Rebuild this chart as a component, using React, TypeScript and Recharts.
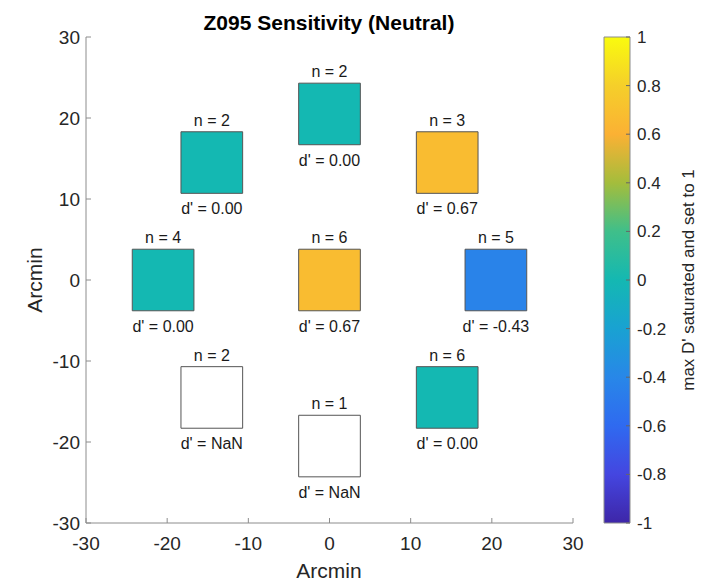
import React from 'react';
import {
  ScatterChart,
  ComposedChart,
  Scatter,
  XAxis,
  YAxis,
  ReferenceArea,
  Label,
  Customized,
} from 'recharts';

// ---- data ----
const centerX = [0, -14.5, 14.5, -20.5, 0, 20.5, -14.5, 14.5, 0];
const centerY = [20.5, 14.5, 14.5, 0, 0, 0, -14.5, -14.5, -20.5];
const trialCounts = [2, 2, 3, 4, 6, 5, 2, 6, 1];
const dPrimeValues = [0, 0, 0.67, 0, 0.67, -0.43, NaN, 0, NaN];
const squareHalf = 3.8;
const axisTicks = [-30, -20, -10, 0, 10, 20, 30];
const colorbarTicks = [-1, -0.8, -0.6, -0.4, -0.2, 0, 0.2, 0.4, 0.6, 0.8, 1];
const parulaStops = [
  '#3E26A8', '#4446E0', '#2F6AF0', '#2887E8', '#19A2D2', '#14B8B2',
  '#3FBF8A', '#A4BD3C', '#FBB134', '#F5CF2A', '#F9FB0E',
];
const titleText = 'Z095 Sensitivity (Neutral)';
const axisLabel = 'Arcmin';
const colorbarLabel = "max D' saturated and set to 1";

const FONT = '"Liberation Sans", Arial, Helvetica, sans-serif';

function hexToRgb(h: string) {
  return [parseInt(h.slice(1, 3), 16), parseInt(h.slice(3, 5), 16), parseInt(h.slice(5, 7), 16)];
}
function parula(v: number) {
  const t = Math.max(0, Math.min(1, (v + 1) / 2));
  const pos = t * (parulaStops.length - 1);
  const i = Math.min(parulaStops.length - 2, Math.floor(pos));
  const f = pos - i;
  const a = hexToRgb(parulaStops[i]);
  const b = hexToRgb(parulaStops[i + 1]);
  const c = a.map((av, k) => Math.round(av + (b[k] - av) * f));
  return `rgb(${c[0]},${c[1]},${c[2]})`;
}

const squares = centerX.map((x, i) => ({
  x,
  y: centerY[i],
  n: trialCounts[i],
  d: dPrimeValues[i],
}));

const makeLabel = (n: number, d: number) => (props: any) => {
  const vb = props.viewBox || {};
  const cx = vb.x + vb.width / 2;
  const top = vb.y;
  const bottom = vb.y + vb.height;
  const dText = Number.isNaN(d) ? 'NaN' : d.toFixed(2);
  return (
    <g>
      <text x={cx} y={top - 6} textAnchor="middle" fontSize={16} fill="#1a1a1a" fontFamily={FONT}>
        {`n = ${n}`}
      </text>
      <text x={cx} y={bottom + 21} textAnchor="middle" fontSize={16} fill="#1a1a1a" fontFamily={FONT}>
        {`d' = ${dText}`}
      </text>
    </g>
  );
};

const Title = () => (
  <text x={329} y={30} textAnchor="middle" fontSize={21} fontWeight="bold" fill="#000" fontFamily={FONT}>
    {titleText}
  </text>
);

export default function App() {
  return (
    <div style={{ position: 'absolute', left: 0, top: 0, width: 711, height: 582, background: '#fff', fontFamily: FONT }}>
      <div style={{ position: 'absolute', left: 0, top: 0 }}>
        <ScatterChart width={711} height={582} margin={{ top: 37, right: 138, bottom: 0, left: 26 }}>
          <XAxis
            type="number"
            dataKey="x"
            domain={[-30, 30]}
            ticks={axisTicks}
            allowDataOverflow
            height={59}
            tickSize={-5}
            tickMargin={19}
            stroke="#8c8c8c"
            tick={{ fill: '#262626', fontSize: 19, fontFamily: FONT }}
          >
            <Label
              content={(p: any) => (
                <text x={329} y={578} textAnchor="middle" fontSize={21} fill="#262626" fontFamily={FONT}>
                  {axisLabel}
                </text>
              )}
            />
          </XAxis>
          <YAxis
            type="number"
            dataKey="y"
            domain={[-30, 30]}
            ticks={axisTicks}
            allowDataOverflow
            width={60}
            tickSize={-5}
            tickMargin={11}
            stroke="#8c8c8c"
            tick={{ fill: '#262626', fontSize: 19, fontFamily: FONT }}
          >
            <Label
              content={(p: any) => (
                <text
                  x={42}
                  y={280}
                  transform="rotate(-90, 42, 280)"
                  textAnchor="middle"
                  fontSize={21}
                  fill="#262626"
                  fontFamily={FONT}
                >
                  {axisLabel}
                </text>
              )}
            />
          </YAxis>
          <Scatter data={squares} isAnimationActive={false} shape={() => <g />} />
          {squares.map((s, i) => (
            <ReferenceArea
              key={i}
              x1={s.x - squareHalf}
              x2={s.x + squareHalf}
              y1={s.y - squareHalf}
              y2={s.y + squareHalf}
              fill={Number.isNaN(s.d) ? '#ffffff' : parula(s.d)}
              fillOpacity={1}
              stroke="#555555"
              strokeWidth={1}
              ifOverflow="visible"
              label={makeLabel(s.n, s.d)}
            />
          ))}
          <Customized component={Title} />
        </ScatterChart>
      </div>
      <div style={{ position: 'absolute', left: 0, top: 0 }}>
        <ComposedChart
          width={711}
          height={582}
          margin={{ top: 37, right: 31, bottom: 59, left: 604 }}
          data={[{ x: 0, y: 0 }, { x: 1, y: 0 }]}
        >
          <defs>
            <linearGradient id="parulaGrad" x1="0" y1="1" x2="0" y2="0">
              {parulaStops.map((c, i) => (
                <stop key={i} offset={`${(i / (parulaStops.length - 1)) * 100}%`} stopColor={c} />
              ))}
            </linearGradient>
          </defs>
          <XAxis type="number" dataKey="x" domain={[0, 1]} hide />
          <YAxis
            type="number"
            orientation="right"
            domain={[-1, 1]}
            ticks={colorbarTicks}
            width={50}
            axisLine={false}
            tickSize={-4}
            tickMargin={11}
            stroke="#666"
            tickFormatter={(v: number) => String(Math.round(v * 10) / 10)}
            tick={{ fill: '#262626', fontSize: 17, fontFamily: FONT }}
          >
            <Label
              content={(p: any) => (
                <text
                  x={688}
                  y={280}
                  transform="rotate(-90, 688, 280)"
                  textAnchor="middle"
                  dominantBaseline="central"
                  fontSize={17}
                  fill="#262626"
                  fontFamily={FONT}
                >
                  {colorbarLabel}
                </text>
              )}
            />
          </YAxis>
          <Scatter dataKey="y" isAnimationActive={false} shape={() => <g />} />
          <ReferenceArea
            y1={-1}
            y2={1}
            fill="url(#parulaGrad)"
            fillOpacity={1}
            stroke="#8c8c8c"
            strokeWidth={1}
            ifOverflow="visible"
          />
        </ComposedChart>
      </div>
    </div>
  );
}
